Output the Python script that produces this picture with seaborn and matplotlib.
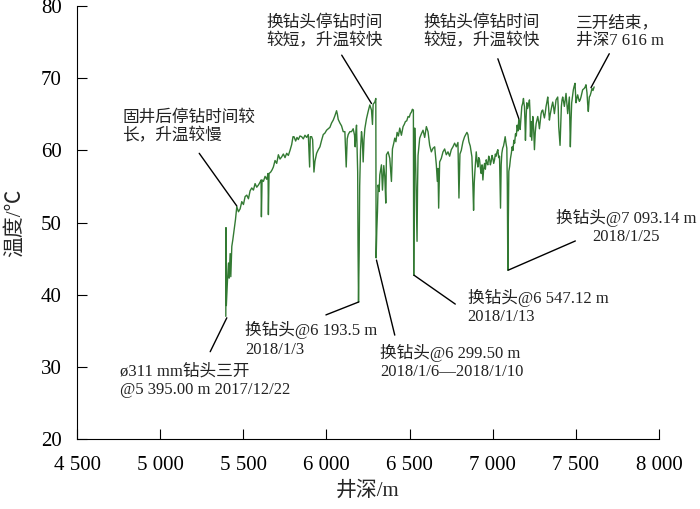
import matplotlib
matplotlib.use("Agg")
import matplotlib.pyplot as plt
import seaborn as sns
import pandas as pd

# well depth (m) and temperature (degC)
depth = [5395, 5396, 5398, 5405, 5411, 5415, 5421, 5425, 5431, 5437, 5445, 5453, 5461, 5471, 5481,
         5491, 5501, 5511, 5521, 5531, 5541, 5551, 5561, 5571, 5581, 5591, 5601, 5607, 5609, 5613,
         5621, 5631, 5641, 5649, 5651, 5655, 5665, 5673, 5681, 5691, 5701, 5711, 5721, 5731, 5741,
         5751, 5761, 5771, 5781, 5791, 5799, 5805, 5815, 5823, 5831, 5841, 5851, 5861, 5871, 5881,
         5891, 5899, 5903, 5911, 5917, 5925, 5931, 5941, 5951, 5961, 5971, 5981, 5991, 6001, 6011,
         6021, 6031, 6041, 6051, 6061, 6066, 6071, 6081, 6091, 6101, 6111, 6119, 6125, 6131, 6141,
         6151, 6161, 6169, 6173, 6177, 6181, 6185, 6188, 6190, 6193, 6195, 6197, 6200, 6205, 6211,
         6216, 6221, 6226, 6231, 6241, 6251, 6261, 6271, 6277, 6281, 6291, 6297, 6299, 6303, 6307,
         6311, 6317, 6321, 6331, 6337, 6345, 6351, 6357, 6361, 6371, 6381, 6391, 6397, 6405, 6411,
         6418, 6425, 6433, 6441, 6451, 6461, 6468, 6475, 6483, 6491, 6498, 6505, 6511, 6517, 6523,
         6525, 6528, 6531, 6537, 6541, 6545, 6548, 6551, 6556, 6561, 6571, 6581, 6591, 6601, 6611,
         6621, 6631, 6641, 6651, 6661, 6667, 6671, 6675, 6681, 6691, 6701, 6711, 6721, 6731, 6741,
         6751, 6761, 6771, 6781, 6791, 6797, 6803, 6811, 6821, 6831, 6845, 6851, 6857, 6865, 6875,
         6881, 6885, 6889, 6893, 6901, 6906, 6911, 6916, 6921, 6926, 6931, 6936, 6941, 6946, 6951,
         6956, 6961, 6966, 6971, 6976, 6981, 6986, 6991, 6996, 7001, 7006, 7011, 7016, 7021, 7026,
         7031, 7036, 7041, 7047, 7051, 7055, 7060, 7065, 7070, 7075, 7080, 7085, 7088, 7091, 7094,
         7097, 7102, 7107, 7112, 7117, 7122, 7127, 7132, 7137, 7142, 7147, 7152, 7157, 7161, 7165,
         7170, 7175, 7180, 7185, 7188, 7191, 7194, 7197, 7201, 7205, 7209, 7213, 7217, 7221, 7224,
         7227, 7231, 7235, 7238, 7241, 7246, 7251, 7256, 7261, 7266, 7271, 7276, 7281, 7286, 7291,
         7296, 7301, 7306, 7311, 7316, 7321, 7326, 7331, 7336, 7341, 7346, 7351, 7356, 7361, 7366,
         7371, 7376, 7381, 7386, 7391, 7394, 7397, 7401, 7405, 7409, 7413, 7417, 7421, 7426, 7431,
         7436, 7441, 7446, 7451, 7456, 7461, 7464, 7467, 7471, 7475, 7480, 7485, 7490, 7495, 7498,
         7501, 7506, 7511, 7516, 7521, 7526, 7531, 7536, 7541, 7546, 7551, 7556, 7561, 7564, 7567,
         7571, 7575, 7578, 7581, 7586, 7591, 7597, 7603, 7610]
temp = [37.0, 49.3, 38.5, 42.0, 44.4, 42.3, 45.7, 42.5, 46.7, 47.6, 49.0, 50.4, 52.2, 51.5, 51.9,
        52.9, 52.5, 53.6, 53.8, 53.3, 54.4, 54.8, 54.5, 55.4, 54.9, 55.2, 55.6, 55.9, 50.8, 55.9,
        55.7, 56.4, 56.0, 56.8, 51.1, 56.8, 57.0, 57.3, 57.7, 58.6, 58.2, 59.4, 58.8, 59.1, 59.5,
        59.0, 59.6, 59.3, 60.0, 60.8, 61.9, 61.9, 61.3, 61.8, 61.5, 62.0, 61.9, 61.6, 62.1, 61.8,
        62.2, 57.7, 61.9, 61.9, 61.5, 57.0, 58.5, 59.6, 60.1, 60.5, 61.4, 62.2, 62.4, 62.8, 63.0,
        63.2, 63.8, 64.2, 64.8, 65.5, 65.0, 64.3, 63.8, 63.4, 62.6, 62.6, 57.7, 61.6, 62.2, 62.6,
        62.6, 63.0, 62.1, 60.5, 62.5, 63.5, 60.0, 57.0, 47.0, 39.0, 43.0, 46.0, 55.0, 60.0, 62.6,
        61.5, 58.4, 61.5, 63.0, 64.4, 65.4, 66.3, 65.6, 63.6, 66.4, 66.7, 67.2, 45.1, 49.0, 51.5,
        55.2, 54.3, 56.6, 58.0, 54.5, 57.9, 56.4, 52.7, 59.4, 59.8, 58.9, 55.7, 60.2, 61.0, 61.7,
        61.2, 62.5, 62.0, 63.1, 62.1, 63.3, 63.6, 64.0, 64.1, 64.7, 64.6, 65.1, 65.3, 65.7, 65.6,
        42.7, 55.0, 63.1, 57.5, 52.0, 47.4, 55.0, 59.3, 60.5, 61.7, 62.3, 62.8, 61.8, 63.3, 62.6,
        60.7, 59.8, 60.3, 60.5, 58.0, 55.7, 57.5, 52.0, 58.4, 58.9, 59.8, 60.2, 59.4, 59.8, 59.2,
        60.1, 60.5, 61.0, 60.5, 61.1, 53.4, 59.5, 60.0, 61.2, 61.9, 62.5, 62.2, 61.2, 60.6, 59.1,
        55.0, 51.7, 55.5, 57.1, 59.8, 58.5, 57.7, 59.0, 58.7, 57.5, 56.8, 58.0, 55.9, 57.5, 58.2,
        57.4, 58.7, 58.2, 58.0, 59.2, 58.9, 58.0, 58.5, 59.3, 58.9, 58.2, 58.7, 59.5, 59.2, 59.8,
        60.1, 59.0, 59.2, 52.0, 58.0, 59.6, 60.3, 60.6, 61.2, 61.9, 61.0, 60.3, 55.0, 43.4, 50.0,
        57.1, 57.8, 58.9, 59.6, 60.5, 60.0, 61.4, 61.0, 62.3, 62.0, 63.5, 62.7, 64.3, 63.8, 62.9,
        64.5, 66.1, 66.5, 67.2, 66.5, 66.1, 64.0, 61.4, 64.5, 66.6, 65.8, 66.1, 66.5, 67.0, 65.5,
        61.9, 64.0, 61.4, 63.0, 64.7, 63.2, 60.1, 62.5, 63.7, 64.2, 64.7, 64.0, 63.0, 64.0, 65.1,
        65.5, 65.6, 65.0, 64.5, 65.2, 66.1, 66.7, 67.4, 66.0, 64.2, 65.0, 65.6, 66.2, 66.7, 66.0,
        65.1, 66.0, 67.0, 67.2, 67.4, 66.0, 63.3, 62.0, 60.7, 63.5, 66.1, 67.0, 67.4, 66.8, 66.1,
        67.0, 67.9, 66.5, 65.1, 66.3, 67.4, 64.0, 60.5, 64.0, 66.6, 67.5, 68.4, 68.9, 69.3, 68.0,
        66.6, 67.2, 67.7, 67.2, 66.8, 67.0, 67.4, 67.9, 68.4, 68.5, 68.6, 68.8, 69.1, 68.5, 68.0,
        66.5, 65.4, 66.5, 67.4, 67.6, 68.0, 68.6, 68.3, 68.8]

x_ticks = [4500, 5000, 5500, 6000, 6500, 7000, 7500, 8000]
x_ticklabels = ["4 500", "5 000", "5 500", "6 000", "6 500", "7 000", "7 500", "8 000"]
y_ticks = [20, 30, 40, 50, 60, 70, 80]

df = pd.DataFrame({"depth": depth, "temp": temp})

sns.set_style("ticks")
plt.rcParams['font.family'] = ['Liberation Serif', 'Noto Sans CJK SC']
plt.rcParams['axes.unicode_minus'] = False

fig = plt.figure(figsize=(7, 5.09), dpi=100)
ax = fig.add_axes([0.11, 0.1375, 0.8314, 0.8505])

sns.lineplot(data=df, x="depth", y="temp", estimator=None, sort=False,
             color="#337a33", lw=1.0, ax=ax)

ax.set_xlim(4500, 8000)
ax.set_ylim(20, 80)
ax.set_xticks(x_ticks)
ax.set_xticklabels(x_ticklabels)
ax.set_yticks(y_ticks)
ax.tick_params(direction="in", length=7.5, width=0.8, labelsize=15, colors="black")
ax.tick_params(axis="x", pad=12)
ax.tick_params(axis="y", pad=11)
sns.despine(ax=ax)
for s in ["left", "bottom"]:
    ax.spines[s].set_linewidth(0.8)
    ax.spines[s].set_color("black")

ax.set_xlabel("井深/m", fontsize=15)
ax.set_ylabel("温度/℃", fontsize=15)
ax.xaxis.set_label_coords(0.5, -0.097)
ax.yaxis.set_label_coords(-0.09, 0.5)

# annotations: text, text position, alignment, leader start, leader end
notes = [
    ("固井后停钻时间较\n长，升温较慢", (4773, 63.2), "left", (5235, 59.6), (5461, 52.3)),
    ("换钻头停钻时间\n较短，升温较快", (5988, 76.4), "center", (6092, 73.2), (6271, 66.5)),
    ("换钻头停钻时间\n较短，升温较快", (6933, 76.4), "center", (7031, 72.7), (7157, 64.4)),
    ("三开结束，\n井深7 616 m", (7503, 76.4), "left", (7701, 73.4), (7591, 68.7)),
    ("换钻头@7 093.14 m\n2018/1/25", (7803, 49.35), "center", (7497, 47.45), (7093, 43.4)),
    ("换钻头@6 547.12 m\n2018/1/13", (6849, 38.3), "left", (6775, 38.7), (6527, 42.7)),
    ("换钻头@6 193.5 m\n2018/1/3", (5511, 33.8), "left", (5997, 37.2), (6195, 39.0)),
    ("换钻头@6 299.50 m\n2018/1/6—2018/1/10", (6321, 30.65), "left", (6411, 34.4), (6301, 44.8)),
    ("ø311 mm钻头三开\n@5 395.00 m 2017/12/22", (4761, 28.1), "left", (5301, 32.1), (5401, 36.8)),
]
for txt, pos, ha, p0, p1 in notes:
    ax.text(pos[0], pos[1], txt, ha=ha, va="center", multialignment=ha,
            fontsize=12, linespacing=1.2, color="#222222")
    ax.plot([p0[0], p1[0]], [p0[1], p1[1]], color="black", lw=1.0)

fig.savefig("out.png", dpi=100)
plt.close()
